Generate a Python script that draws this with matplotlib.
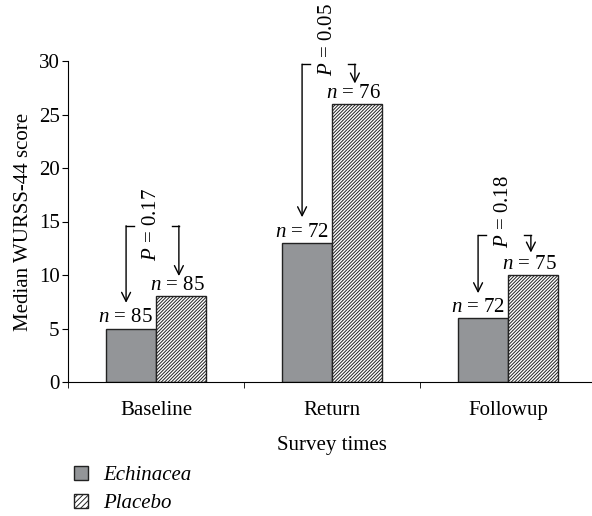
import numpy as np
import matplotlib
matplotlib.use('Agg')
import matplotlib.pyplot as plt
from matplotlib.patches import Patch

plt.rcParams['font.family'] = ['Liberation Serif', 'DejaVu Serif']
plt.rcParams['mathtext.fontset'] = 'custom'
plt.rcParams['mathtext.rm'] = 'Liberation Serif'
plt.rcParams['mathtext.it'] = 'Liberation Serif:italic'
plt.rcParams['hatch.linewidth'] = 0.7

# dados
categorias = ['Baseline', 'Return', 'Followup']
echinacea = [5, 13, 6]
placebo = [8, 26, 10]
n_echinacea = [85, 72, 72]
n_placebo = [85, 76, 75]
p_valores = ['0.17', '0.05', '0.18']

# colchetes dos valores de P (topo, ponta esquerda, ponta direita)
colchete_topo = [14.6, 29.7, 13.7]
seta_esq = [7.4, 15.4, 8.3]
seta_dir = [9.9, 27.9, 12.1]
p_texto_y = [14.7, 32.0, 15.9]

fs = 15

fig = plt.figure(figsize=(5.92, 5.16), dpi=100)
ax = fig.add_axes([68/592, 1 - 382/516, 528/592, 321/516])

x = np.arange(len(categorias))
w = 0.284
ax.bar(x - w/2, echinacea, w, color='#939598', edgecolor='#222222', linewidth=1)
ax.bar(x + w/2, placebo, w, color='white', edgecolor='#222222', linewidth=1,
       hatch='//////////')

# rótulos n = ...
for i in range(len(x)):
    ax.text(x[i] - w/2 - 0.03, echinacea[i] + 0.1, r'$n$ = %d' % n_echinacea[i],
            ha='center', va='bottom', fontsize=fs)
    ax.text(x[i] + w/2 - 0.02, placebo[i] + 0.1, r'$n$ = %d' % n_placebo[i],
            ha='center', va='bottom', fontsize=fs)

# colchetes com setas
for i in range(len(x)):
    xl = x[i] - 0.17
    xr = x[i] + 0.13
    top = colchete_topo[i]
    ax.plot([xl, xl + 0.045], [top, top], color='black', lw=1, clip_on=False)
    ax.plot([xr - 0.04, xr], [top, top], color='black', lw=1, clip_on=False)
    ax.annotate('', xy=(xl, seta_esq[i]), xytext=(xl, top),
                arrowprops=dict(arrowstyle='->', lw=1, shrinkA=0, shrinkB=0,
                                mutation_scale=16), annotation_clip=False)
    ax.annotate('', xy=(xr, seta_dir[i]), xytext=(xr, top),
                arrowprops=dict(arrowstyle='->', lw=1, shrinkA=0, shrinkB=0,
                                mutation_scale=16), annotation_clip=False)
    ax.text(x[i] - 0.025, p_texto_y[i], r'$P$ = ' + p_valores[i], rotation=90,
            ha='center', va='center', fontsize=fs, clip_on=False)

ax.set_xlim(-0.5, 2.5)
ax.set_ylim(0, 30)
ax.set_yticks(range(0, 31, 5))
ax.set_xticks(x)
ax.set_xticklabels(categorias)
ax.set_xticks([-0.5, 0.5, 1.5, 2.5], minor=True)
ax.tick_params(axis='x', which='major', length=0, labelsize=fs, pad=14)
ax.tick_params(axis='x', which='minor', length=4, direction='out')
ax.tick_params(axis='y', length=4, direction='out', labelsize=fs, pad=2)
ax.spines['top'].set_visible(False)
ax.spines['right'].set_visible(False)
ax.set_ylabel('Median WURSS-44 score', fontsize=fs, labelpad=4)
ax.set_xlabel('Survey times', fontsize=fs, labelpad=11)

handles = [Patch(facecolor='#939598', edgecolor='#222222', linewidth=1),
           Patch(facecolor='white', edgecolor='#222222', linewidth=1, hatch='//////')]
fig.legend(handles, ['Echinacea', 'Placebo'], loc='upper left',
           bbox_to_anchor=(74/592, 1 - 466/516), frameon=False,
           prop={'style': 'italic', 'size': fs}, handlelength=0.65, handleheight=0.65,
           handletextpad=0.75, labelspacing=0.4, borderpad=0, borderaxespad=0)

fig.savefig('out.png', dpi=100)
